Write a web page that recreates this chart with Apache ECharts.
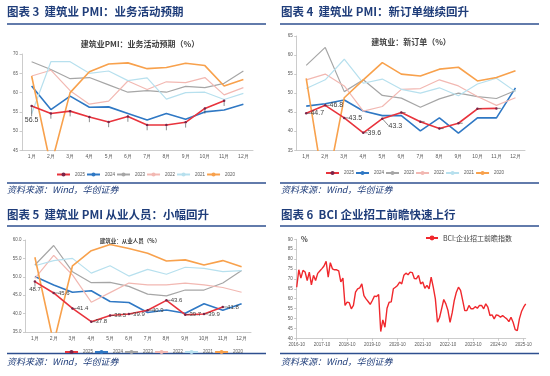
<!DOCTYPE html>
<html>
<head>
<meta charset="utf-8">
<script src="https://cdn.jsdelivr.net/npm/echarts@6/dist/echarts.min.js"></script>
<style>
html, body { margin: 0; padding: 0; background: #fff; }
#chart { width: 550px; height: 376px; }
</style>
</head>
<body>
<div id="chart"></div>
<script>
const months = ['1月', '2月', '3月', '4月', '5月', '6月', '7月', '8月', '9月', '10月', '11月', '12月']
const years = ['2025', '2024', '2023', '2022', '2021', '2020']

// 图表3 业务活动预期
const expect2025 = [56.5, 54.6, 55.2, 53.7, 52.4, 53.8, 51.6, 51.6, 52.3, 55.9, 57.9]
const expect2024 = [61.7, 55.6, 59.1, 56.2, 56.3, 54.6, 52.9, 54.6, 53.1, 55.0, 55.5, 57.0]
const expect2023 = [68.0, 66.0, 63.6, 63.9, 62.0, 60.1, 60.5, 60.1, 61.6, 61.3, 62.4, 65.6]
const expect2022 = [64.3, 65.8, 60.5, 57.0, 57.8, 63.0, 60.8, 62.8, 62.6, 63.9, 59.4, 61.3]
const expect2021 = [54.5, 68.0, 68.0, 65.0, 65.6, 63.1, 63.8, 58.3, 60.0, 60.1, 58.2, 59.8]
const expect2020 = [64.3, 41.0, 60.0, 65.4, 67.4, 67.7, 66.2, 66.5, 67.6, 67.0, 61.7, 63.4]

// 图表4 新订单
const order2025 = [44.7, 46.8, 43.5, 39.6, 43.3, 44.9, 42.5, 40.7, 42.1, 45.9, 46.0]
const order2024 = [46.6, 47.2, 48.2, 45.3, 44.1, 44.1, 40.1, 43.5, 39.5, 43.5, 43.5, 51.4]
const order2023 = [57.3, 62.0, 50.4, 53.5, 49.4, 48.7, 46.3, 48.5, 50.0, 49.1, 48.6, 50.7]
const order2022 = [53.5, 55.0, 51.9, 45.3, 46.5, 51.0, 51.2, 53.5, 51.9, 49.1, 46.8, 48.8]
const order2021 = [51.2, 53.5, 58.9, 52.6, 53.7, 51.0, 50.0, 51.4, 49.3, 52.4, 53.9, 50.4]
const order2020 = [53.9, 23.0, 48.8, 53.5, 58.0, 55.0, 54.5, 56.3, 56.8, 53.2, 54.1, 55.9]

// 图表5 从业人员
const staff2025 = [48.7, 45.6, 41.4, 37.8, 39.5, 39.9, 40.9, 43.6, 39.7, 39.9, 41.8]
const staff2024 = [50.1, 47.8, 45.8, 46.2, 43.3, 43.0, 40.3, 41.0, 40.1, 42.7, 40.9, 42.7]
const staff2023 = [53.2, 58.5, 51.4, 48.4, 48.5, 47.4, 45.3, 44.8, 46.4, 46.4, 48.3, 51.7]
const staff2022 = [49.6, 55.8, 50.5, 43.1, 45.7, 48.3, 47.8, 47.8, 48.3, 47.8, 47.1, 45.8]
const staff2021 = [53.0, 54.4, 55.0, 51.0, 53.0, 50.2, 52.0, 50.7, 52.6, 52.3, 51.4, 51.7]
const staff2020 = [55.3, 32.0, 53.0, 57.1, 58.8, 57.7, 56.4, 54.3, 54.6, 53.2, 54.4, 52.7]

// 图表6 BCI企业招工前瞻指数，2016-10起按月
const bciValues = [
  65.8, 74.6, 70.4, 74.3, 73.5, 69.2, 73.4, 67.0, 71.8, 69.2, 72.8, 74.0,
  75.2, 76.5, 78.9, 70.9, 78.2, 75.1, 74.6, 74.6, 74.0, 68.5, 70.4, 56.6,
  58.3, 58.0, 54.9, 56.6, 63.3, 65.0, 65.5, 67.5, 61.6, 59.9, 58.6, 57.1,
  59.1, 61.3, 61.1, 62.1, 43.4, 49.3, 45.6, 55.2, 58.2, 58.4, 65.0, 65.8,
  66.7, 68.4, 67.5, 71.8, 72.9, 72.1, 73.4, 73.2, 70.2, 70.1, 71.8, 67.5,
  68.4, 65.3, 66.7, 65.0, 70.9, 65.8, 59.9, 48.1, 50.5, 55.0, 59.6, 57.4,
  54.0, 48.1, 52.8, 59.1, 63.3, 65.8, 64.2, 59.1, 54.0, 54.0, 56.6, 54.9,
  54.9, 56.0, 55.2, 56.6, 56.6, 54.9, 57.4, 55.7, 51.5, 51.8, 49.8, 51.8,
  51.5, 50.6, 51.5, 50.6, 49.8, 48.4, 50.6, 48.1, 44.4, 43.9, 49.8, 53.5,
  55.7, 57.4
]
const bciMonths = bciValues.map((_, i) => {
  const m = 9 + i
  return (2016 + Math.floor(m / 12)) + '-' + String((m % 12) + 1).padStart(2, '0')
})

const colors = ['#e8333c', '#2f78c4', '#a6a6a6', '#f2b8b2', '#b7e0ee', '#f8a14c']
const widths = [1.6, 1.6, 1.2, 1.2, 1.2, 1.6]
const navy = '#1f3d7a'
const axisColor = '#bfbfbf'

const sans = '"Noto Sans CJK SC", sans-serif'

// 一个PMI小图的6条线
const pmiSeries = (idx, list, label, layout) =>
  years.map((y, k) => ({
    name: y,
    type: 'line',
    xAxisIndex: idx,
    yAxisIndex: idx,
    data: list[k],
    z: k === 0 ? 8 : 2,
    symbol: k === 0 ? 'circle' : 'none',
    symbolSize: 2.5,
    showSymbol: k === 0,
    lineStyle: { color: colors[k], width: widths[k] },
    itemStyle: { color: k === 0 ? '#7a2448' : colors[k] },
    label: k === 0 ? label : { show: false },
    labelLayout: k === 0 ? layout : undefined,
    labelLine: k === 0 ? { show: true, lineStyle: { color: '#404040', width: 0.6 } } : undefined,
    emphasis: { disabled: true }
  }))

const catAxis = (idx) => ({
  type: 'category',
  gridIndex: idx,
  data: months,
  boundaryGap: true,
  axisLine: { lineStyle: { color: axisColor, width: 0.8 } },
  axisTick: { length: 2.5, lineStyle: { color: axisColor, width: 0.8 } },
  axisLabel: { fontSize: 5, color: '#595959', margin: 4 }
})

const valAxis = (idx, min, max, fmt) => ({
  type: 'value',
  gridIndex: idx,
  min: min,
  max: max,
  interval: 5,
  splitLine: { show: false },
  axisLine: { show: true, lineStyle: { color: axisColor, width: 0.8 } },
  axisTick: { show: true, length: 2.5, lineStyle: { color: axisColor, width: 0.8 } },
  axisLabel: { fontSize: 4.5, color: '#595959', margin: 4, formatter: fmt }
})

const legendBase = (left, top) => ({
  data: years,
  left: left,
  top: top,
  orient: 'horizontal',
  itemWidth: 13,
  itemHeight: 5,
  itemGap: 1,
  selectedMode: false,
  textStyle: { fontSize: 4.5, color: '#595959' }
})

const labelStyle = { fontSize: 7, color: '#404040' }

const options = {
  animation: false,
  backgroundColor: '#fff',
  title: [
    { text: '建筑业PMI：业务活动预期（%）', left: 135, top: 35, textAlign: 'center',
      textStyle: { fontSize: 8, fontWeight: 'bold', color: '#404040', fontFamily: sans } },
    { text: '建筑业：新订单（%）', left: 406, top: 33, textAlign: 'center',
      textStyle: { fontSize: 8, fontWeight: 'bold', color: '#404040', fontFamily: sans } },
    { text: '建筑业：从业人员（%）', left: 125, top: 233, textAlign: 'center',
      textStyle: { fontSize: 5.5, fontWeight: 'bold', color: '#404040', fontFamily: sans } }
  ],
  legend: [
    legendBase(51, 167),
    legendBase(320, 165.5),
    legendBase(59, 344.5),
    {
      data: ['BCI:企业招工前瞻指数'],
      left: 420,
      top: 229.5,
      itemWidth: 12,
      itemHeight: 6,
      selectedMode: false,
      textStyle: { fontSize: 7, color: '#404040', fontFamily: sans }
    }
  ],
  grid: [
    { left: 22, top: 54, width: 231, height: 96.5, containLabel: false, outerBoundsMode: 'none' },
    { left: 296.7, top: 36, width: 228.3, height: 114.3, containLabel: false, outerBoundsMode: 'none' },
    { left: 25.5, top: 240, width: 225.5, height: 92, containLabel: false, outerBoundsMode: 'none' },
    { left: 296.7, top: 239.3, width: 229, height: 99, containLabel: false, outerBoundsMode: 'none' }
  ],
  xAxis: [
    catAxis(0),
    catAxis(1),
    catAxis(2),
    {
      type: 'category',
      gridIndex: 3,
      data: bciMonths,
      boundaryGap: false,
      axisLine: { lineStyle: { color: axisColor, width: 0.8 } },
      axisTick: { length: 2.5, interval: (i, v) => v.slice(5) === '10', lineStyle: { color: axisColor, width: 0.8 } },
      axisLabel: { fontSize: 4.5, color: '#595959', margin: 4, interval: (i, v) => v.slice(5) === '10' }
    }
  ],
  yAxis: [
    valAxis(0, 45, 70),
    valAxis(1, 35, 65),
    valAxis(2, 35, 60, (v) => v.toFixed(1)),
    valAxis(3, 40, 90)
  ],
  series: [
    ...pmiSeries(0, [expect2025, expect2024, expect2023, expect2022, expect2021, expect2020],
      { show: true, position: 'bottom', distance: 4, ...labelStyle,
        formatter: (p) => (p.dataIndex === 0 ? p.value.toFixed(1) : '') },
      (p) => (p.dataIndex === 0 ? { dy: 5 } : null)),
    ...pmiSeries(1, [order2025, order2024, order2023, order2022, order2021, order2020],
      { show: true, position: 'right', distance: 3, ...labelStyle,
        formatter: (p) => (p.dataIndex < 5 ? p.value.toFixed(1) : '') },
      (p) => (p.dataIndex === 4 ? { dx: 2, dy: 7 } : null)),
    ...pmiSeries(2, [staff2025, staff2024, staff2023, staff2022, staff2021, staff2020],
      { show: true, position: 'right', distance: 3, fontSize: 6, color: '#404040',
        formatter: (p) => p.value.toFixed(1) },
      (p) => (p.dataIndex === 0 ? { dx: -10, dy: 8 } : null)),
    {
      name: 'BCI:企业招工前瞻指数',
      type: 'line',
      xAxisIndex: 3,
      yAxisIndex: 3,
      data: bciValues,
      symbol: 'none',
      lineStyle: { color: '#f0282d', width: 1.4 },
      itemStyle: { color: '#f0282d' },
      emphasis: { disabled: true }
    }
  ],
  graphic: [
    { type: 'text', x: 7, y: 12, style: { text: '图表 3  建筑业 PMI：业务活动预期', font: 'bold 11.5px ' + sans, fill: navy, verticalAlign: 'middle' } },
    { type: 'text', x: 281, y: 12, style: { text: '图表 4  建筑业 PMI：新订单继续回升', font: 'bold 11.5px ' + sans, fill: navy, verticalAlign: 'middle' } },
    { type: 'text', x: 7, y: 215, style: { text: '图表 5  建筑业 PMI 从业人员：小幅回升', font: 'bold 11.5px ' + sans, fill: navy, verticalAlign: 'middle' } },
    { type: 'text', x: 281, y: 215, style: { text: '图表 6  BCI 企业招工前瞻快速上行', font: 'bold 11.5px ' + sans, fill: navy, verticalAlign: 'middle' } },
    { type: 'line', shape: { x1: 7, y1: 24, x2: 266, y2: 24 }, style: { stroke: '#2e4f8f', lineWidth: 1.5 } },
    { type: 'line', shape: { x1: 280, y1: 24, x2: 539, y2: 24 }, style: { stroke: '#2e4f8f', lineWidth: 1.5 } },
    { type: 'line', shape: { x1: 7, y1: 226, x2: 266, y2: 226 }, style: { stroke: '#2e4f8f', lineWidth: 1.5 } },
    { type: 'line', shape: { x1: 280, y1: 226, x2: 539, y2: 226 }, style: { stroke: '#2e4f8f', lineWidth: 1.5 } },
    { type: 'line', shape: { x1: 7, y1: 183, x2: 266, y2: 183 }, style: { stroke: '#2e4f8f', lineWidth: 1.5 } },
    { type: 'line', shape: { x1: 280, y1: 183, x2: 539, y2: 183 }, style: { stroke: '#2e4f8f', lineWidth: 1.5 } },
    { type: 'line', shape: { x1: 7, y1: 353.5, x2: 266, y2: 353.5 }, style: { stroke: '#2e4f8f', lineWidth: 1.5 } },
    { type: 'line', shape: { x1: 280, y1: 353.5, x2: 539, y2: 353.5 }, style: { stroke: '#2e4f8f', lineWidth: 1.5 } },
    { type: 'text', x: 7, y: 190, style: { text: '资料来源：Wind，华创证券', font: 'italic 9px ' + sans, fill: navy, verticalAlign: 'middle' } },
    { type: 'text', x: 281, y: 190, style: { text: '资料来源：Wind，华创证券', font: 'italic 9px ' + sans, fill: navy, verticalAlign: 'middle' } },
    { type: 'text', x: 7, y: 362, style: { text: '资料来源：Wind，华创证券', font: 'italic 9px ' + sans, fill: navy, verticalAlign: 'middle' } },
    { type: 'text', x: 281, y: 362, style: { text: '资料来源：Wind，华创证券', font: 'italic 9px ' + sans, fill: navy, verticalAlign: 'middle' } },
    { type: 'text', x: 301, y: 239, style: { text: '%', font: 'bold 7px ' + sans, fill: '#404040', verticalAlign: 'middle' } }
  ]
}

let chart = null
const initChart = () => {
  const chart = echarts.init(document.getElementById('chart'))
  chart.setOption(options)
  return chart
}
chart = initChart()
window.addEventListener('resize', function () {
  chart && chart.resize()
})
</script>
</body>
</html>
